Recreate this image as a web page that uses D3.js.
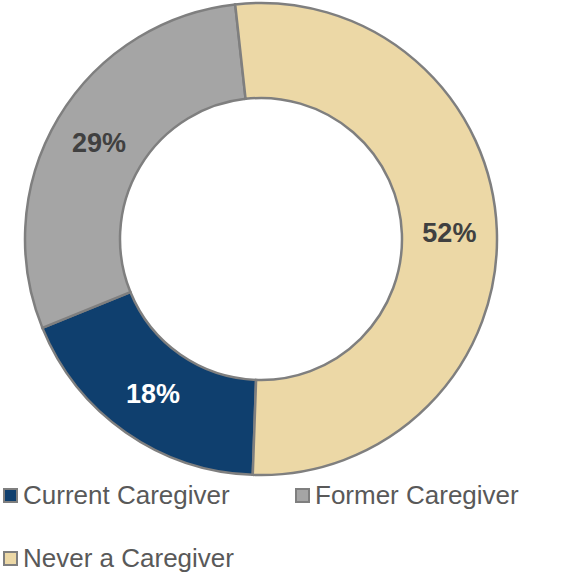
<!DOCTYPE html>
<html>
<head>
<meta charset="utf-8">
<script src="https://cdn.jsdelivr.net/npm/d3@7"></script>
<style>
  body { margin: 0; background: #fff; }
  svg { display: block; font-family: "Liberation Sans", Arial, sans-serif; }
</style>
</head>
<body>
<div id="vis"></div>
<script>
const width = 563;
const height = 572;

// data
const categories = ['Current Caregiver', 'Former Caregiver', 'Never a Caregiver'];
const values = [18.3, 29.4, 52.3];
const colors = ['#0f3f6e', '#a5a5a5', '#ecd8a6'];
const labelColors = ['#ffffff', '#404040', '#404040'];

const cx = 261, cy = 239;
const outerR = 236, innerR = 141;

const svg = d3.select('#vis')
    .append('svg')
    .attr('width', width)
    .attr('height', height);

const pie = d3.pie()
    .sort(null)
    .value(d => d)
    .startAngle(182 * Math.PI / 180)
    .endAngle((182 + 360) * Math.PI / 180);

const arc = d3.arc()
    .innerRadius(innerR)
    .outerRadius(outerR);

const arcs = pie(values);

const g = svg.append('g')
    .attr('transform', `translate(${cx},${cy})`);

g.selectAll('path')
    .data(arcs)
    .enter()
    .append('path')
    .attr('d', arc)
    .attr('fill', (d, i) => colors[i])
    .attr('stroke', '#7f7f7f')
    .attr('stroke-width', 2.5);

g.selectAll('text.lbl')
    .data(arcs)
    .enter()
    .append('text')
    .attr('class', 'lbl')
    .attr('transform', d => `translate(${arc.centroid(d)})`)
    .attr('text-anchor', 'middle')
    .attr('dy', '0.36em')
    .style('font-size', '27px')
    .style('font-weight', 'bold')
    .style('fill', (d, i) => labelColors[i])
    .text(d => Math.round(d.data) + '%');

// legend
const legendPos = [[5, 504], [297, 504], [5, 567]];

const legend = svg.selectAll('g.legend')
    .data(categories)
    .enter()
    .append('g')
    .attr('class', 'legend')
    .attr('transform', (d, i) => `translate(${legendPos[i][0]},${legendPos[i][1]})`);

legend.append('rect')
    .attr('x', -1)
    .attr('y', -15)
    .attr('width', 13)
    .attr('height', 13)
    .attr('fill', (d, i) => colors[i])
    .attr('stroke', '#7f7f7f')
    .attr('stroke-width', 2);

legend.append('text')
    .attr('x', 18)
    .attr('y', 0)
    .style('font-size', '26px')
    .style('fill', '#595959')
    .text(d => d);
</script>
</body>
</html>
